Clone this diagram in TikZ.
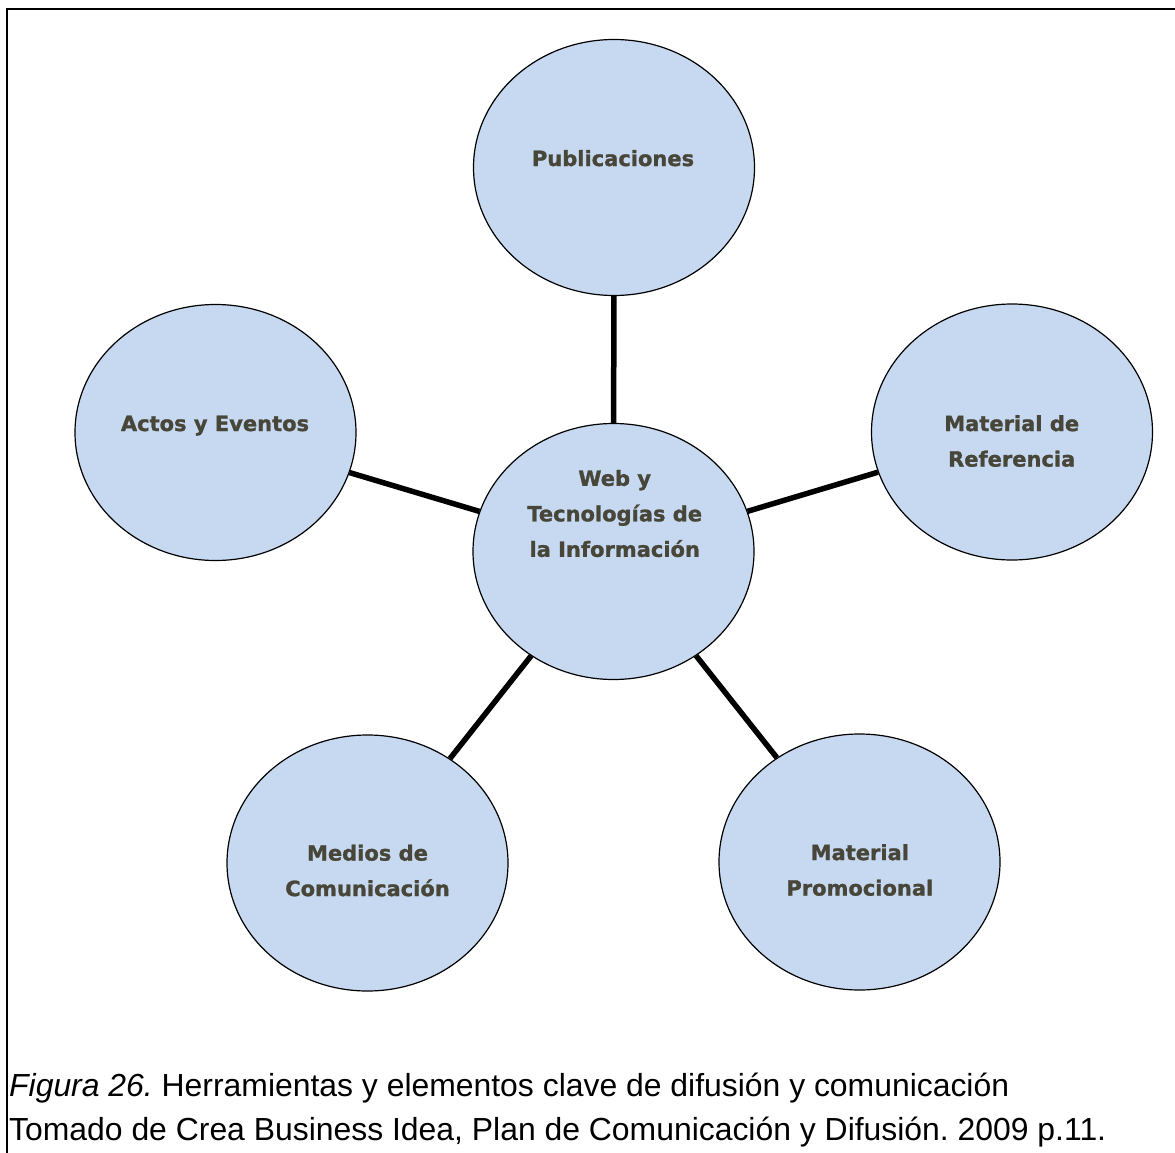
\documentclass[tikz,border=0pt]{standalone}
\usepackage{fontspec}
\setmainfont{Liberation Sans}
\newfontfamily\circfont{DejaVu Sans}[BoldFeatures={FakeBold=1.2}]
\usetikzlibrary{shapes.geometric}
\definecolor{bubblefill}{RGB}{198,217,241}
\definecolor{bubtext}{RGB}{72,70,56}
\frenchspacing
\begin{document}
\begin{tikzpicture}[x=1pt,y=-1pt,
  bubble/.style={ellipse, draw=black, line width=1.2pt, fill=bubblefill, minimum width=281pt, minimum height=256pt, inner sep=0pt},
  btext/.style={font=\circfont\bfseries\fontsize{21}{35.5}\selectfont, text=bubtext, align=center, inner sep=0pt},
  link/.style={line width=5.5pt, draw=black},
  captext/.style={font=\fontsize{31.9}{44}\selectfont, anchor=base west, inner sep=0pt}]
\useasboundingbox (0,0) rectangle (1175,1153);
\fill[white] (0,0) rectangle (1175,1153);
\draw[line width=2pt] (1175,9) -- (7,9) -- (7,1153);

\node[bubble] (pub) at (614,167.5) {};
\node[bubble] (act) at (215.5,432.5) {};
\node[bubble] (ref) at (1012,432) {};
\node[bubble] (med) at (367.5,863) {};
\node[bubble] (pro) at (859.5,862) {};
\node[bubble] (web) at (613.5,551.5) {};

\draw[link] (web) -- (pub);
\draw[link] (web) -- (act);
\draw[link] (web) -- (ref);
\draw[link] (web) -- (med);
\draw[link] (web) -- (pro);

\node[btext, anchor=base] (pubT) at (613,166) {Publicaciones};
\node[btext, anchor=base] (actT) at (215,431) {Actos y Eventos};
\node[btext] (refT) at (1011.7,441) {Material de\\Referencia};
\node[btext] (medT) at (367.5,870.5) {Medios de\\Comunicación};
\node[btext] (proT) at (859.8,870) {Material\\Promocional};
\node[btext] (webT) at (614.7,513.5) {Web y\\Tecnologías de\\la Información};

\node[captext] (cap1) at (9,1096) {\textit{Figura 26.} Herramientas y elementos clave de difusión y comunicación};
\node[captext] (cap2) at (9,1140) {Tomado de Crea Business Idea, Plan de Comunicación y Difusión. 2009 p.11.};
\end{tikzpicture}
\end{document}
